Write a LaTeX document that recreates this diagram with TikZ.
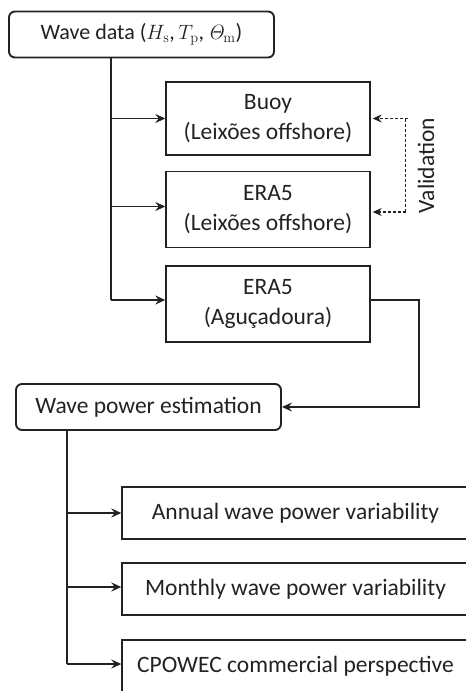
\documentclass[tikz,border=0pt]{standalone}
\usepackage[no-math]{fontspec}
\setmainfont{Carlito}
\usetikzlibrary{arrows.meta}
\definecolor{ink}{HTML}{222222}
\tikzset{
  x=1pt, y=-1pt,
  every node/.style={font=\fontsize{23.5}{30}\selectfont, text=ink, inner sep=0pt, align=center},
  headbox/.style={draw=ink, line width=1.9pt, rounded corners=6pt, minimum width=265pt, minimum height=46pt},
  srcbox/.style={draw=ink, line width=1.4pt, minimum width=204pt, minimum height=74pt},
  outbox/.style={draw=ink, line width=1.4pt, minimum width=347pt, minimum height=52pt},
  conn/.style={draw=ink, line width=1.4pt, -{Stealth[length=10pt,width=9pt,inset=3.5pt]}},
  valid/.style={draw=ink, line width=1.1pt, dash pattern=on 3pt off 2pt, -{Stealth[length=9pt,width=8pt,inset=3pt]}}
}
\begin{document}
\begin{tikzpicture}
\useasboundingbox (0,0) rectangle (466,691);
\clip (0,0) rectangle (466,691);
\node[headbox, font=\fontsize{22}{28}\selectfont] (wd) at (141.5,34.5) {Wave data ($H_{\mathrm{s}}$,\,$T_{\mathrm{p}}$,\,$\mathit{\Theta}_{\mathrm{m}}$)};
\node[srcbox, minimum height=73pt] (buoy) at (268,118.5) {Buoy\\(Leixões offshore)};
\node[srcbox, minimum height=76pt] (eral) at (268,209.5) {ERA5\\(Leixões offshore)};
\node[srcbox, minimum height=76pt] (agu) at (268,304) {ERA5\\(Aguçadoura)};
\node[headbox] (wp) at (148.5,407) {Wave power estimation};
\node[outbox] (ann) at (295.5,513) {Annual wave power variability};
\node[outbox] (mon) at (295.5,589) {Monthly wave power variability};
\node[outbox] (cpo) at (295.5,666) {CPOWEC commercial perspective};
\node[rotate=90] (val) at (426,165.5) {Validation};

\coordinate (t1) at (111,58);
\coordinate (t2) at (67,430);
\coordinate (vr) at (405.5,0);
\coordinate (ar) at (419,0);

% top trunk
\draw[draw=ink, line width=1.4pt] (wd.south -| t1) -- ([yshift=4pt]agu.west -| t1);
\draw[conn] (buoy.west -| t1) -- (buoy.west);
\draw[conn] ([yshift=3pt]eral.west -| t1) -- ([yshift=3pt]eral.west);
\draw[conn] ([yshift=4pt]agu.west -| t1) -- ([yshift=4pt]agu.west);

% validation
\draw[valid] ([xshift=2pt]buoy.east -| vr) -- ([xshift=2pt]buoy.east);
\draw[draw=ink, line width=1.1pt, dash pattern=on 3pt off 2pt] (buoy.east -| vr) -- ([yshift=-2.5pt]eral.east -| vr);
\draw[valid] ([yshift=-2.5pt]eral.east -| vr) -- ([xshift=2pt,yshift=-2.5pt]eral.east);

% agu to wave power
\draw[conn] ([yshift=4pt]agu.east) -| ([yshift=4pt]agu.east -| ar) |- (wp.east);

% bottom trunk
\draw[draw=ink, line width=1.4pt] (wp.south -| t2) -- ([yshift=2pt]cpo.west -| t2);
\draw[conn] (ann.west -| t2) -- (ann.west);
\draw[conn] ([yshift=2pt]mon.west -| t2) -- ([yshift=2pt]mon.west);
\draw[conn] ([yshift=2pt]cpo.west -| t2) -- ([yshift=2pt]cpo.west);
\end{tikzpicture}
\end{document}
